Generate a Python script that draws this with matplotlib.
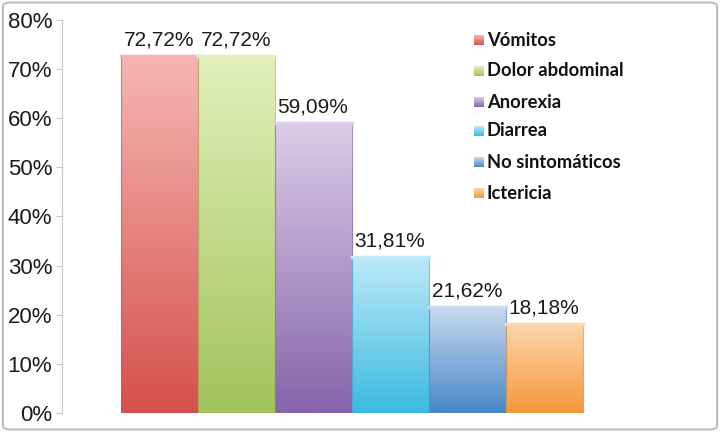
import numpy as np
import matplotlib.pyplot as plt
from matplotlib.colors import LinearSegmentedColormap
from matplotlib.patches import FancyBboxPatch

# data
categories = ['Vómitos', 'Dolor abdominal', 'Anorexia', 'Diarrea', 'No sintomáticos', 'Ictericia']
values = [72.72, 72.72, 59.09, 31.81, 21.62, 18.18]
value_labels = ['72,72%', '72,72%', '59,09%', '31,81%', '21,62%', '18,18%']
yticks = [0, 10, 20, 30, 40, 50, 60, 70, 80]
ytick_labels = ['0%', '10%', '20%', '30%', '40%', '50%', '60%', '70%', '80%']

# (top, bottom) gradient colours
bar_colors = [('#f6b6b4', '#d5504c'),
              ('#e4efbc', '#a2c35a'),
              ('#dccde8', '#8564aa'),
              ('#bde9f9', '#3bbbdf'),
              ('#c9daee', '#4887c8'),
              ('#fdd6ad', '#f5973a')]

num_font = ['Liberation Sans Narrow', 'Liberation Sans', 'DejaVu Sans']

fig = plt.figure(figsize=(7.2, 4.32), dpi=100)
ax = fig.add_axes([62 / 720, 1 - 413 / 432, (705 - 62) / 720, (413 - 20) / 432])

x = np.arange(len(values))
bars = ax.bar(x, values, width=1.0, color='none', edgecolor='none')
grad = np.linspace(1, 0, 256).reshape(-1, 1)
for b, (top, bot), lab in zip(bars, bar_colors, value_labels):
    cmap = LinearSegmentedColormap.from_list('g', [bot, top])
    x0, w, h = b.get_x(), b.get_width(), b.get_height()
    im = ax.imshow(grad, cmap=cmap, extent=[x0, x0 + w, 0, h], aspect='auto', zorder=2, vmin=0, vmax=1)
    im.set_clip_path(b)
    ax.add_patch(plt.Rectangle((x0, 0), w, h, fill=False, edgecolor=bot, lw=0.8, alpha=0.6, zorder=3))
    ax.plot([x0, x0 + w], [h, h], color=top, lw=2.5, zorder=3)
    ax.text(x0 + w / 2, h + 1.2, lab, ha='center', va='bottom', fontsize=15,
            family=num_font, color='#1a1a1a')

ax.set_xlim(-1.26, 7.09)
ax.set_ylim(0, 80)
ax.set_yticks(yticks)
ax.set_yticklabels(ytick_labels, family=num_font, fontsize=16, color='#1a1a1a')
ax.set_xticks([])
for s in ['top', 'right', 'bottom']:
    ax.spines[s].set_visible(False)
ax.spines['left'].set_color('#c8c8c8')
ax.tick_params(axis='y', length=4, color='#c8c8c8', pad=3)

# legend
leg_y = [40, 71, 102, 131, 162, 193]
for (top, bot), name, yy in zip(bar_colors, categories, leg_y):
    fy = 1 - yy / 432
    cmap = LinearSegmentedColormap.from_list('g', [bot, top])
    lax = fig.add_axes([474 / 720, fy - 5 / 432, 10 / 720, 10 / 432])
    lax.imshow(grad, cmap=cmap, aspect='auto', vmin=0, vmax=1)
    lax.axis('off')
    fig.text(487 / 720, fy, name, ha='left', va='center', fontsize=13.2,
             fontweight='bold', family=['Lato', 'DejaVu Sans'], color='#111111')

# outer frame
fig.patches.append(FancyBboxPatch((0.004, 0.006), 0.992, 0.988, boxstyle='round,pad=0,rounding_size=0.01',
                                  transform=fig.transFigure, fill=False, edgecolor='#bdbdbd', lw=1.5))

fig.savefig('out.png', dpi=100)
